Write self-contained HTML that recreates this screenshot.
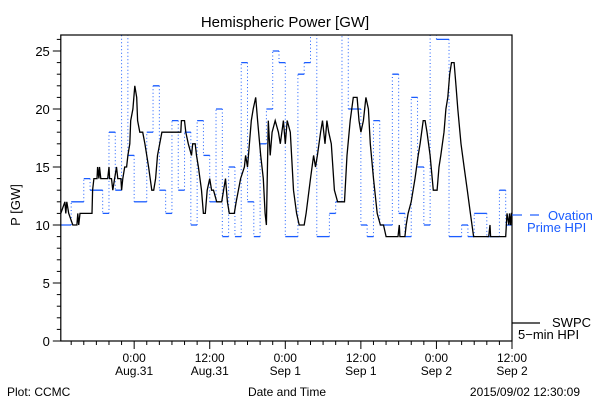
<!DOCTYPE html>
<html><head><meta charset="utf-8">
<style>
html,body{margin:0;padding:0;background:#fff;}
svg{display:block;font-family:"Liberation Sans",sans-serif;}
</style></head>
<body>
<svg id="chart" width="600" height="400" viewBox="0 0 600 400">
<defs><clipPath id="pc"><rect x="60.8" y="35" width="451.2" height="306"/></clipPath></defs>
<rect x="0" y="0" width="600" height="400" fill="#fff"/>
<text x="285" y="27" font-size="15" text-anchor="middle">Hemispheric Power [GW]</text>
<g id="axes"></g>
<g id="series" clip-path="url(#pc)"></g>
<rect x="60.8" y="35" width="451.2" height="306" fill="none" stroke="#000" stroke-width="1.2"/>
<text transform="translate(20,205) rotate(-90)" font-size="13" text-anchor="middle">P [GW]</text>
<text x="287" y="396" font-size="12" text-anchor="middle">Date and Time</text>
<text x="7" y="396" font-size="12">Plot: CCMC</text>
<text x="580" y="396" font-size="12" text-anchor="end">2015/09/02 12:30:09</text>
<g>
<line x1="512" y1="215" x2="522" y2="215" stroke="#1a5cff" stroke-width="1.2"/>
<line x1="530" y1="215" x2="539" y2="215" stroke="#1a5cff" stroke-width="1.2"/>
<text x="548" y="220" font-size="13" fill="#1a5cff">Ovation</text>
<text x="527" y="232" font-size="13" fill="#1a5cff">Prime HPI</text>
</g>
<g>
<line x1="512" y1="323" x2="540" y2="323" stroke="#000" stroke-width="1.2"/>
<text x="552" y="327" font-size="13">SWPC</text>
<text x="518" y="339" font-size="13">5−min HPI</text>
</g>
</svg>
<script>
// Ovation Prime: step start hours (relative to Aug 31 00:00) and values (GW)
var ovTimes=[-11.65,-10,-8,-7,-5,-4,-3,-2,-1,0,2,3,4,5,6,7,8,9,10,11,12,13,14,15,16,17,18,19,20,21,22,23,24,26,27,28,29,31,32,33,34,36,37,38,39,41,42,43,44,45,46,47,48,50,52,53,54,56,58,59];
var ovValues=[10,12,14,13,11,18,13,27,16,12,18,22,13,11,19,13,18,10,19,16,12,20,9,15,9,24,12,9,17,20,25,24,9,23,24,27,9,11,12,27,20,10,9,19,10,23,11,9,21,15,10,27,26,9,10,9,11,9,13,10];
// SWPC 5-min HPI
var swTimes=[-11.65,-11,-10.85,-10.7,-10.4,-9.75,-9.1,-8.95,-8.8,-8.6,-6.7,-6.6,-6.4,-5.9,-5.8,-5.6,-5.5,-5.3,-4.2,-4,-3.9,-3.6,-3.4,-3.1,-2.8,-2.6,-2.1,-2,-1.8,-1.5,-1.2,-1,-0.7,-0.55,-0.2,0.1,0.4,0.55,0.9,1.35,1.7,2.3,2.8,3.1,3.4,3.7,4.4,4.8,7.4,7.5,8,8.2,8.6,9.1,9.3,9.7,9.9,10.2,10.7,11,11.3,11.6,12,12.3,12.6,13.1,13.9,14.2,14.5,14.8,15.1,15.9,16.2,16.9,17.5,17.7,18,18.3,18.6,18.9,19.3,19.6,20.1,20.5,20.8,21,21.3,21.6,21.9,22.4,22.9,23.2,23.7,24,24.3,24.8,25.3,25.8,26.2,27,27.3,28,28.5,28.8,29.1,29.6,29.9,30.3,30.6,30.9,31.3,31.8,32.3,33.4,33.8,34.3,34.8,35.4,35.7,36,36.4,36.8,37.2,37.5,38,38.6,39.1,39.6,40,41.9,42.1,42.2,43,43.2,43.5,44,44.3,44.6,45.1,45.4,45.9,46.2,46.5,47,47.5,48.1,48.4,48.7,49.2,49.5,49.8,50.1,50.4,50.8,51.1,51.4,51.9,52.4,52.9,53.4,53.9,56.3,56.5,56.6,59,59.2,59.5,59.6,59.8,59.9,60];
var swValues=[11,12,11,12,11,10,10,11,10,11,11,13,14,14,15,14,15,14,14,15,14,14,13,14,15,14,14,13,14,15,15,16,17,19,20,22,21,19,18,18,17,15,13,13,14,16,18,18,18,19,19,18,17,16,17,17,16,15,13,11,11,13,14,13,13,12,12,13,14,12,11,11,12,14,15,16,15,17,19,20,21,19,16,14,11,10,19,16,18,19,18,17,19,17,19,18,13,11,10,10,11,14,16,15,16,18,19,17,19,18,17,13,12,12,16,19,21,21,19,18,19,21,20,17,14,11,10,10,9,9,10,9,9,10,11,12,13,14,16,17,19,19,18,16,13,13,15,16,18,20,21,23,24,24,22,20,17,15,13,11,9,9,10,9,9,11,10,11,10,11,11];
var yTicks=[0,5,10,15,20,25];
var xTickHours=[0,12,24,36,48,60];
var xTickTop=["0:00","12:00","0:00","12:00","0:00","12:00"];
var xTickBottom=["Aug.31","Aug.31","Sep 1","Sep 1","Sep 2","Sep 2"];

var NS="http://www.w3.org/2000/svg";
var X0=60.8,X1=512,T0=-11.65,T1=60;
function xs(h){return X0+(h-T0)*(X1-X0)/(T1-T0);}
function ys(v){return 341-11.6*v;}
function mk(tag,attrs,parent){var e=document.createElementNS(NS,tag);for(var k in attrs)e.setAttribute(k,attrs[k]);parent.appendChild(e);return e;}
var axes=document.getElementById('axes'),series=document.getElementById('series');
var BLUE="#1a5cff";
for(var v=0;v<=26;v++){
  var major=v%5===0;
  var t=mk('line',{x1:X0-(major?8:4),x2:X0,y1:ys(v),y2:ys(v),stroke:'#000','stroke-width':1},axes);
  
  
}
yTicks.forEach(function(v){
  var l=mk('text',{x:X0-11,y:ys(v)+5,'font-size':13,'text-anchor':'end'},axes);
  l.textContent=v;
  
  
});
for(var h=-10;h<=60;h+=2){
  var maj=(h%12===0);
  var t2=mk('line',{x1:xs(h),x2:xs(h),y1:341,y2:341+(maj?8:4),stroke:'#000','stroke-width':1},axes);
  
  
}
xTickHours.forEach(function(h,i){
  var a=mk('text',{x:xs(h),y:362,'font-size':12,'text-anchor':'middle'},axes);
  a.textContent=xTickTop[i];
  
  
  var b=mk('text',{x:xs(h),y:375,'font-size':12,'text-anchor':'middle'},axes);
  b.textContent=xTickBottom[i];
  
  
});
for(var i=0;i<ovTimes.length;i++){
  var ta=ovTimes[i],tb=(i+1<ovTimes.length)?ovTimes[i+1]:T1;
  var seg=mk('line',{x1:xs(ta),x2:xs(tb),y1:ys(ovValues[i]),y2:ys(ovValues[i]),stroke:BLUE,'stroke-width':1.3},series);
  
  
  if(i+1<ovTimes.length){
    var vl=mk('line',{x1:xs(tb),x2:xs(tb),y1:ys(ovValues[i]),y2:ys(ovValues[i+1]),stroke:BLUE,'stroke-width':1,'stroke-dasharray':'1 2.5'},series);
    
    
  }
}
var pts=swTimes.map(function(t,i){return xs(t).toFixed(1)+','+ys(swValues[i]).toFixed(1);}).join(' ');
var pl=mk('polyline',{points:pts,fill:'none',stroke:'#000','stroke-width':1.3},series);


</script>
</body></html>
